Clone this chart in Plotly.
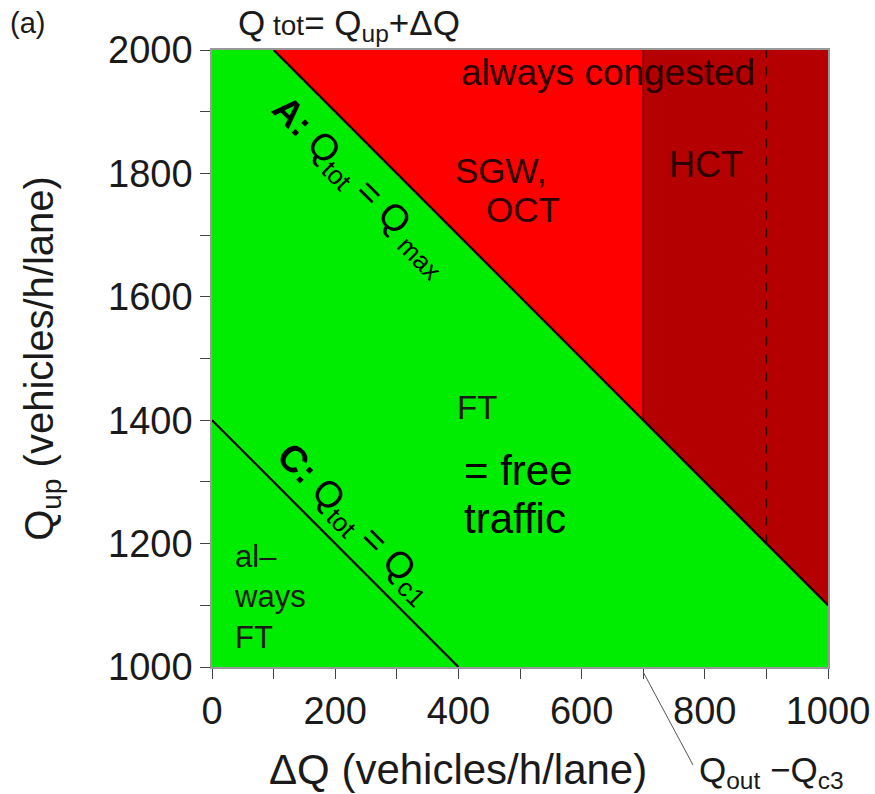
import plotly.graph_objects as go

# ---- data ----
x_range = [0, 1000]          # Delta Q (vehicles/h/lane)
y_range = [1000, 2000]       # Q_up (vehicles/h/lane)
Q_max = 2100                 # line A: Q_up + dQ = Q_max
Q_c1 = 1400                  # line C: Q_up + dQ = Q_c1
dQ_hct = 700                 # Q_out - Q_c3
dQ_dash = 900                # dashed boundary
x_ticks = [0, 100, 200, 300, 400, 500, 600, 700, 800, 900, 1000]
x_labels = ["0", "", "200", "", "400", "", "600", "", "800", "", "1000"]
y_ticks = [1000, 1100, 1200, 1300, 1400, 1500, 1600, 1700, 1800, 1900, 2000]
y_labels = ["1000", "", "1200", "", "1400", "", "1600", "", "1800", "", "2000"]

GREEN = "rgb(0,236,0)"
RED = "rgb(255,0,0)"
DARKRED = "rgb(180,0,0)"
FONT = "Liberation Sans, Arial, sans-serif"
TXT = "#1a1a1a"
DARKTXT = "#2a0000"

x0, x1 = x_range
y0, y1 = y_range
xa_top = Q_max - y1            # where line A meets top
xc_bot = Q_c1 - y0             # where line C meets bottom

fig = go.Figure()
def poly(xs, ys, color):
    fig.add_trace(go.Scatter(x=xs, y=ys, fill="toself", fillcolor=color, line=dict(width=0),
                             mode="lines", hoverinfo="skip", showlegend=False))
def line(xs, ys, color, width, dash="solid"):
    fig.add_trace(go.Scatter(x=xs, y=ys, mode="lines", line=dict(color=color, width=width, dash=dash),
                             hoverinfo="skip", showlegend=False))

poly([x0, x1, x1, x0], [y0, y0, y1, y1], GREEN)
poly([xa_top, dQ_hct, dQ_hct], [y1, y1, Q_max - dQ_hct], RED)
poly([dQ_hct, x1, x1, dQ_hct], [y1, y1, Q_max - x1, Q_max - dQ_hct], DARKRED)
line([dQ_hct, dQ_hct], [Q_max - dQ_hct, y1], "rgb(110,0,0)", 1.5)
line([dQ_dash, dQ_dash], [Q_max - dQ_dash, y1], "rgb(40,0,0)", 1.5, "dash")
line([xa_top, x1], [y1, Q_max - x1], "black", 2.2)
line([x0, xc_bot], [Q_c1 - x0, y0], "black", 2.2)

axis_common = dict(showgrid=False, zeroline=False, ticks="outside", ticklen=10,
                   tickcolor="#444", tickwidth=1.2, showline=True, linecolor="#999",
                   linewidth=1.5, mirror=True, automargin=False,
                   tickfont=dict(family=FONT, size=38, color=TXT))
fig.update_xaxes(range=x_range, tickvals=x_ticks, ticktext=x_labels, **axis_common)
fig.update_yaxes(range=y_range, tickvals=y_ticks, ticktext=y_labels,
                 title=dict(text="Q<sub>up</sub> (vehicles/h/lane)",
                            font=dict(family=FONT, size=40, color=TXT), standoff=42),
                 **axis_common)

def ann(x, y, text, size=34, color=TXT, angle=0, xanchor="center", xref="x", yref="y",
        align="center"):
    fig.add_annotation(x=x, y=y, xref=xref, yref=yref, text=text, showarrow=False,
                       textangle=angle, xanchor=xanchor, yanchor="middle", align=align,
                       font=dict(family=FONT, size=size, color=color))

ann(643, 1963, "always congested", size=37, color=DARKTXT)
ann(469, 1805, "SGW,", size=35, color=DARKTXT)
ann(505, 1741, "OCT", size=35, color=DARKTXT)
ann(802, 1814, "HCT", size=36, color=DARKTXT)
ann(430, 1420, "FT", size=33)
ann(406, 1319, "= free", size=42, color="black", xanchor="left")
ann(406, 1241, "traffic", size=42, color="black", xanchor="left")
ann(32, 1113, "al–<br>ways<br>FT", size=31, xanchor="left", align="left")
ann(241, 1778, "<b>A:</b> Q<sub>tot</sub> = Q<sub> max</sub>", size=37, angle=45, color="black")
ann(232, 1232, "<b>C:</b> Q<sub>tot</sub> = Q<sub>c1</sub>", size=37, angle=45, color="black")

# pixel-placed labels via paper coords
W, H = 875, 794
L, R, T, B = 212, 47, 50, 127
pw, ph = W - L - R, H - T - B
def px(xp): return (xp - L) / pw
def py(yp): return (H - B - yp) / ph

ann(px(458), py(770), "ΔQ (vehicles/h/lane)", size=42, xref="paper", yref="paper")
ann(px(8), py(23), "(a)", size=29, xanchor="left", xref="paper", yref="paper")
ann(px(236), py(25), "Q<span style='font-size:28px'> tot</span>= Q<sub>up</sub>+ΔQ", size=35,
    xanchor="left", xref="paper", yref="paper")
ann(px(697), py(772), "Q<sub>out</sub> −Q<sub>c3</sub>", size=35, xanchor="left",
    xref="paper", yref="paper")
# leader line from the Q_out - Q_c3 boundary to its label
fig.add_shape(type="line", xref="x", yref="paper", x0=dQ_hct, y0=py(672), x1=(693 - L) / pw * 1000,
              y1=py(765), line=dict(color="#555", width=1))

fig.update_layout(
    width=875, height=794,
    margin=dict(l=212, r=47, t=50, b=127, autoexpand=False),
    paper_bgcolor="white", plot_bgcolor="white",
    showlegend=False,
)

fig.write_html("out.html")
